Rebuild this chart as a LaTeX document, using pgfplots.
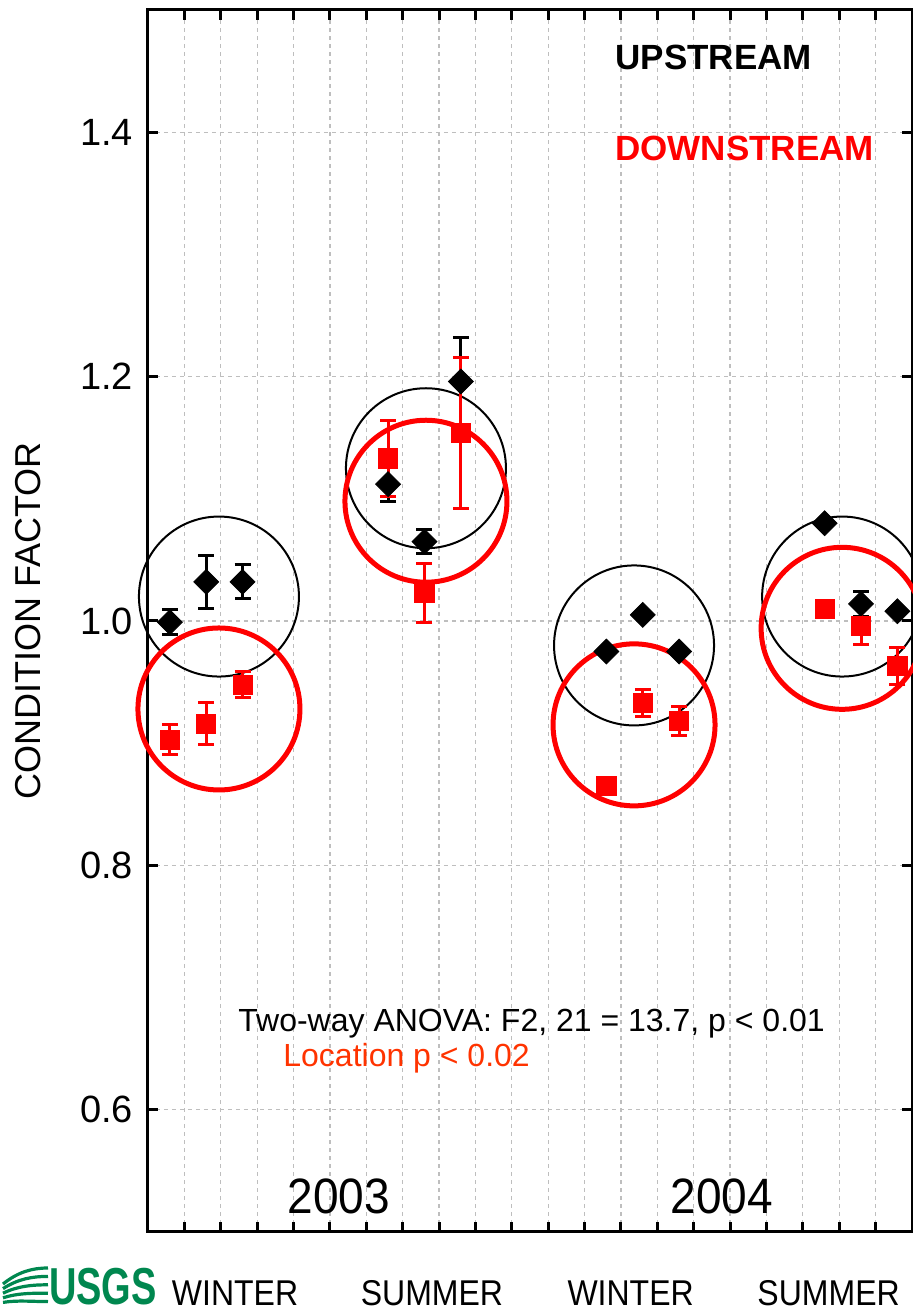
\documentclass[border=0pt]{standalone}
\usepackage{fontspec}
\setmainfont{Liberation Sans}
\usepackage{pgfplots}
\usepackage{pgfplotstable}
\usepackage{graphicx}
\pgfplotsset{compat=1.18}
\definecolor{locred}{HTML}{FF3300}
\definecolor{usgsgreen}{HTML}{00874F}
\definecolor{gridgray}{HTML}{BEBEBE}

\pgfplotstableread{
x y e
0.6  0.999 0.010
1.6  1.032 0.022
2.6  1.032 0.014
6.6  1.112 0.014
7.6  1.065 0.010
8.6  1.196 0.036
12.6 0.975 0.002
13.6 1.005 0.002
14.6 0.975 0.002
18.6 1.080 0.002
19.6 1.014 0.010
20.6 1.008 0.002
}\upstream

\pgfplotstableread{
x y e
0.6  0.903 0.012
1.6  0.916 0.017
2.6  0.948 0.011
6.6  1.133 0.031
7.6  1.023 0.024
8.6  1.154 0.062
12.6 0.865 0.007
13.6 0.933 0.011
14.6 0.918 0.012
18.6 1.010 0.006
19.6 0.996 0.015
20.6 0.963 0.015
}\downstream

\begin{document}
\begin{tikzpicture}
\begin{axis}[
  name=ax, at={(0pt,0pt)}, anchor=south west,
  width=382pt, height=611pt, scale only axis,
  xmin=0, xmax=21, ymin=0.5, ymax=1.5,
  clip=false,
  xtick={1,...,20}, xticklabels={},
  ytick={0.6,0.8,1.0,1.2,1.4},
  /pgf/number format/assume math mode=true,
  yticklabel style={/pgf/number format/fixed, /pgf/number format/fixed zerofill,
    /pgf/number format/precision=1, font=\fontsize{19}{22}\selectfont, xshift=-4pt},
  tick align=inside, tick pos=both, major tick length=5pt,
  tick style={line width=1.5pt, black},
  axis line style={line width=1.5pt},
  grid=major, grid style={gridgray, dash pattern=on 2pt off 2pt, line width=0.6pt},
  ylabel={CONDITION FACTOR},
  every axis y label/.style={at={(axis description cs:-0.157,0.5)}, rotate=90, anchor=center,
    font=\fontsize{18}{21}\selectfont},
]
% circles (annotations)
\draw[black, line width=1pt] (axis cs:1.95,1.020) circle[radius=40pt];
\draw[red, line width=2.5pt] (axis cs:1.95,0.928) circle[radius=40.5pt];
\draw[black, line width=1pt] (axis cs:7.64,1.125) circle[radius=40pt];
\draw[red, line width=2.5pt] (axis cs:7.64,1.098) circle[radius=40.5pt];
\draw[black, line width=1pt] (axis cs:13.36,0.980) circle[radius=40pt];
\draw[red, line width=2.5pt] (axis cs:13.36,0.915) circle[radius=40.5pt];
\draw[black, line width=1pt] (axis cs:19.08,1.020) circle[radius=40pt];
\draw[red, line width=2.5pt] (axis cs:19.08,0.994) circle[radius=40.5pt];

\addplot[only marks, mark=square*, mark size=4.4pt,
  mark options={rotate=45, fill=black, draw=black},
  error bars/.cd, y dir=both, y explicit,
  error bar style={line width=1.5pt, black},
  error mark options={rotate=90, mark size=4pt, line width=1.5pt, black}]
  table[x=x, y=y, y error=e] {\upstream};

\addplot[only marks, mark=square*, mark size=4.8pt,
  mark options={fill=red, draw=red},
  error bars/.cd, y dir=both, y explicit,
  error bar style={line width=1.5pt, red},
  error mark options={rotate=90, mark size=4pt, line width=1.5pt, red}]
  table[x=x, y=y, y error=e] {\downstream};
\end{axis}

% legend-like labels
\node[anchor=base west, inner sep=0pt, font=\fontsize{17.5}{21}\selectfont\bfseries] at (233.5pt,581.3pt) {UPSTREAM};
\node[anchor=base west, inner sep=0pt, text=red, font=\fontsize{17.5}{21}\selectfont\bfseries] at (233.5pt,535.8pt) {DOWNSTREAM};

% statistics
\node[anchor=base west, inner sep=0pt, font=\fontsize{16}{19}\selectfont] at (45pt,100.3pt) {Two-way ANOVA: F2, 21 = 13.7, p < 0.01};
\node[anchor=base west, inner sep=0pt, text=locred, font=\fontsize{16}{19}\selectfont] at (67.5pt,82.8pt) {Location p < 0.02};

% years
\node[anchor=base, inner sep=0pt, font=\fontsize{23}{26}\selectfont] at (95.3pt,9.5pt) {\scalebox{1}[1.08]{2003}};
\node[anchor=base, inner sep=0pt, font=\fontsize{23}{26}\selectfont] at (286.8pt,9.5pt) {\scalebox{1}[1.08]{2004}};

% seasons
\node[anchor=base, inner sep=0pt, font=\fontsize{16}{19}\selectfont] at (43.5pt,-36.5pt) {\scalebox{1}[1.12]{WINTER}};
\node[anchor=base, inner sep=0pt, font=\fontsize{16}{19}\selectfont] at (142pt,-36.5pt) {\scalebox{1}[1.12]{SUMMER}};
\node[anchor=base, inner sep=0pt, font=\fontsize{16}{19}\selectfont] at (241.3pt,-36.5pt) {\scalebox{1}[1.12]{WINTER}};
\node[anchor=base, inner sep=0pt, font=\fontsize{16}{19}\selectfont] at (340.3pt,-36.5pt) {\scalebox{1}[1.12]{SUMMER}};

% USGS logo (approximation)
\node[anchor=base, inner sep=0pt, text=usgsgreen, font=\fontsize{25}{28}\selectfont\bfseries] at (-22.5pt,-36.3pt) {\scalebox{0.76}[1.04]{USGS}};
\foreach \i in {0,1,2,3,4}{
  \draw[usgsgreen, line width=1.6pt] (-50pt,{-18pt-4.2pt*\i}) .. controls (-58pt,{-18pt-4.2pt*\i}) and (-65pt,{-20pt-3.5pt*\i}) .. (-72.5pt,{-26pt-2.3pt*\i});
}

\pgfresetboundingbox
\path[use as bounding box] (-74pt,-40pt) rectangle (382.5pt,616pt);
\end{tikzpicture}
\end{document}
